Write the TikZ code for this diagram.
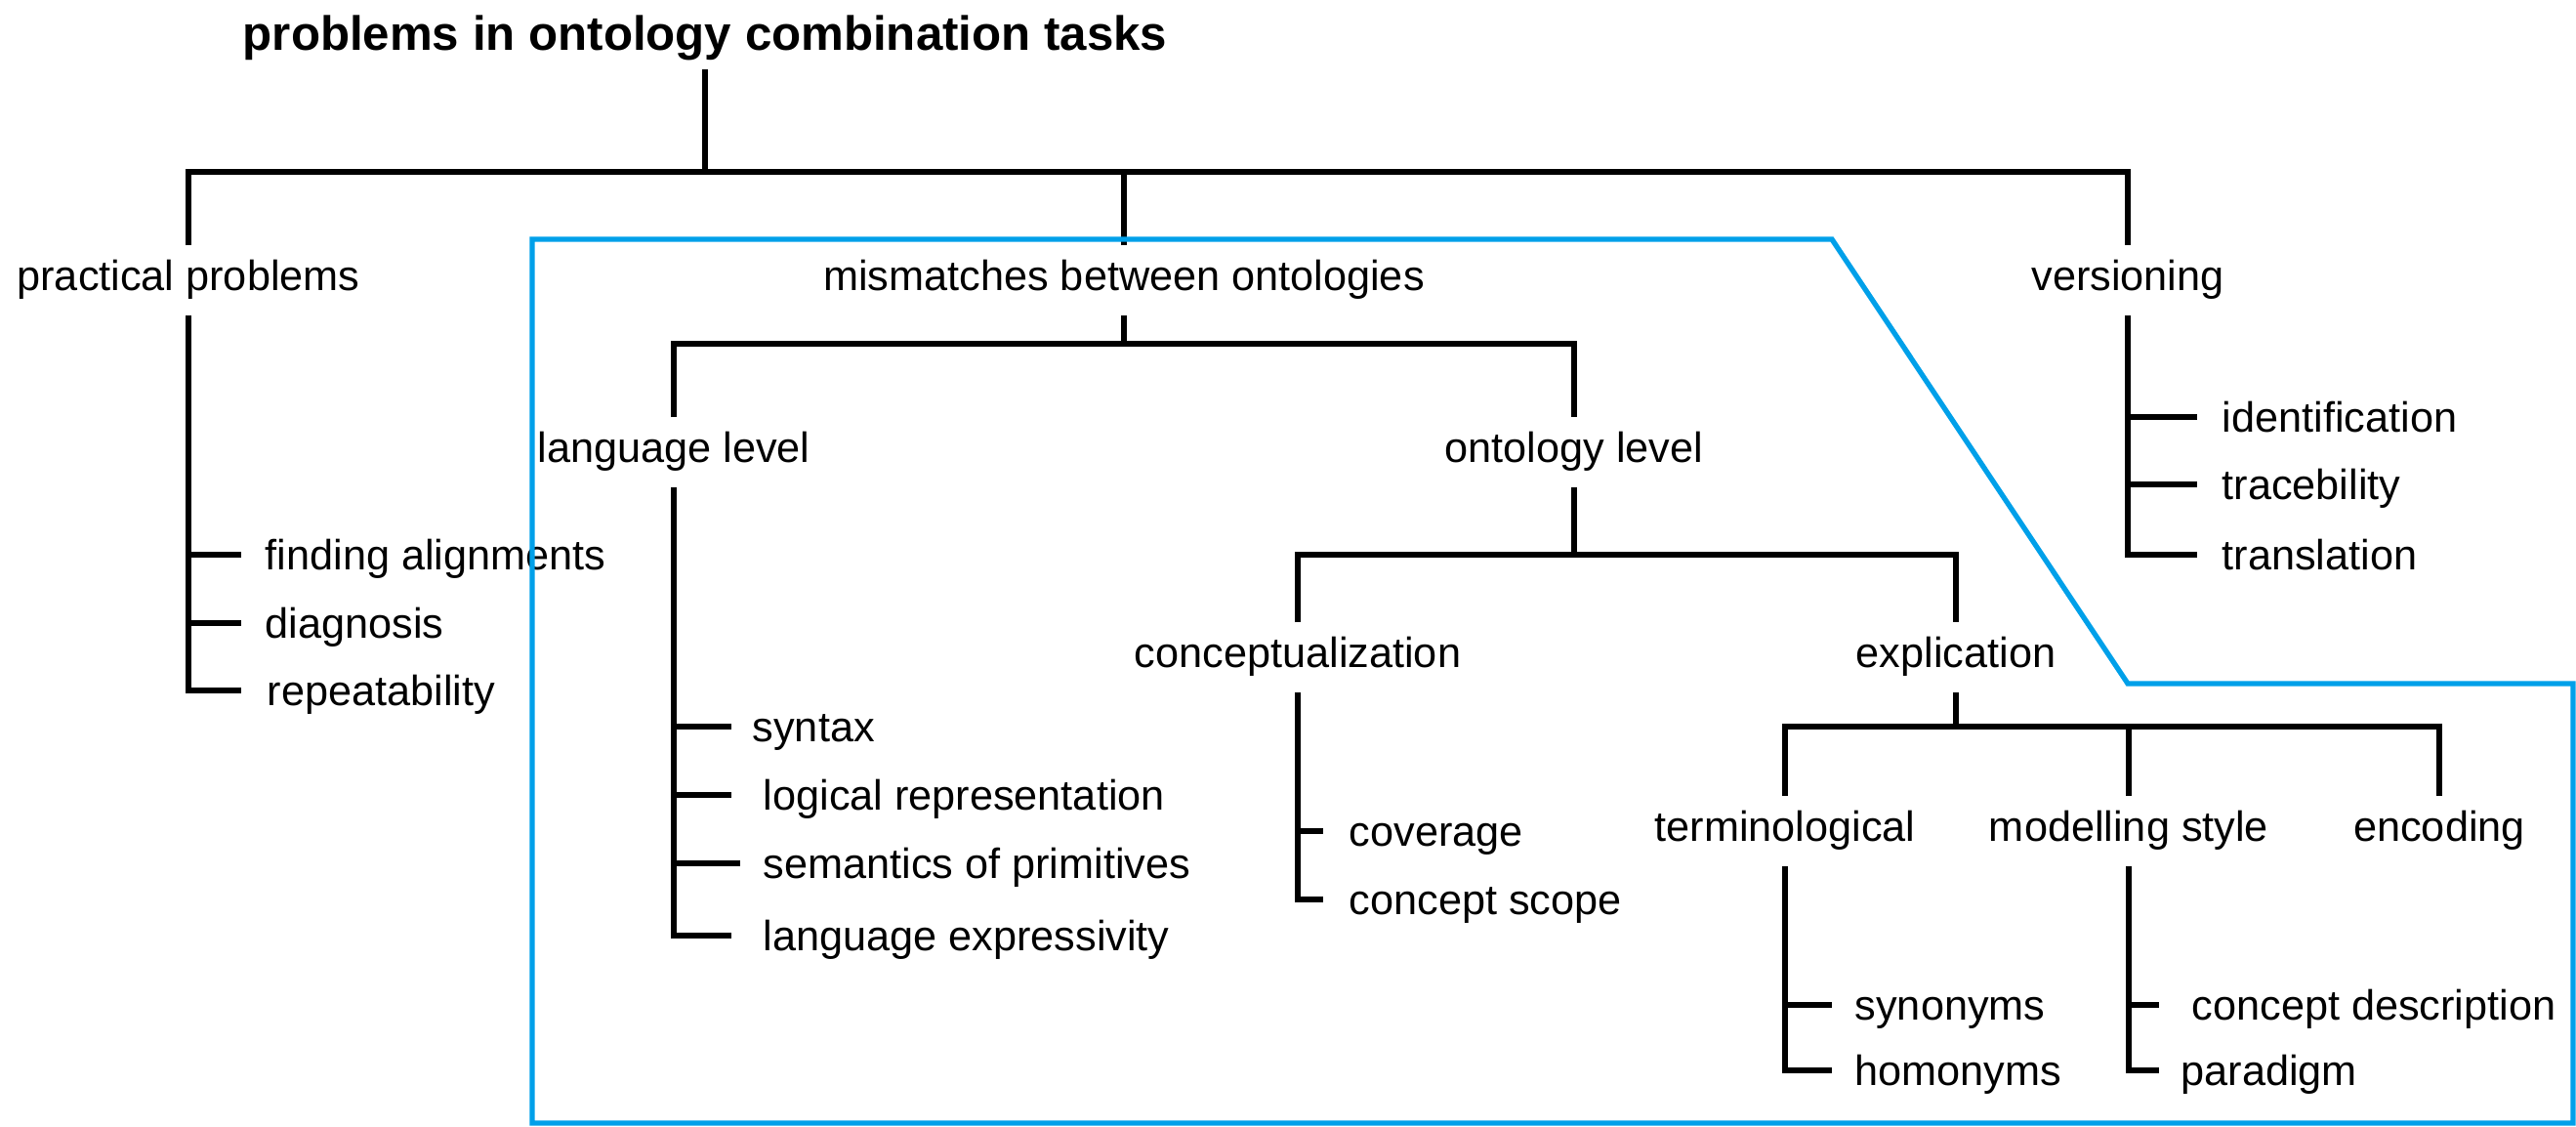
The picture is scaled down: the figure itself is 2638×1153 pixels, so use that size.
\documentclass[tikz,border=0pt]{standalone}
\usepackage{fontspec}
\setmainfont{Liberation Sans}
\usetikzlibrary{calc}
\definecolor{regionblue}{RGB}{0,160,233}
\begin{document}
\begin{tikzpicture}[x=0.01cm,y=-0.01cm,
  tree/.style={line width=1.6pt, line join=miter},
  lab/.style={font=\fontsize{12.3}{14}\selectfont, text height=9pt, text depth=3pt,
              inner xsep=0pt, inner ysep=4pt},
  leaf/.style={lab, anchor=west},
  region/.style={draw=regionblue, line width=1.5pt, line join=miter}]
\useasboundingbox (0,0) rectangle (2638,1153);

% root
\node[font=\fontsize{14}{17}\selectfont\bfseries, text height=10pt, text depth=3pt,
      inner xsep=0pt, inner ysep=2.5pt] (root) at (722,39) {problems in ontology combination tasks};
\coordinate (bar0) at (722,176);

% first level
\node[lab] (pp)  at (193,287)  {practical problems};
\node[lab] (mm)  at (1151,287) {mismatches between ontologies};
\node[lab] (ver) at (2179,287) {versioning};
\draw[tree] (root.south) -- (root.south |- bar0);
\draw[tree] (pp.north) -- (pp.north |- bar0) -- (ver.north |- bar0) -- (ver.north);
\draw[tree] (mm.north) -- (mm.north |- bar0);

% practical problems
\node[leaf] (fa) at (271,573) {finding alignments};
\node[leaf] (dg) at (271,643) {diagnosis};
\node[leaf] (rp) at (273,712) {repeatability};
\draw[tree] (pp.south) -- ($(pp.south |- rp.west)+(0,-5)$) -- +(54,0);
\foreach \n in {fa,dg}
  \draw[tree] ($(pp.south |- \n.west)+(0,-5)$) -- +(54,0);

% versioning
\node[leaf] (idf) at (2275,432) {identification};
\node[leaf] (trc) at (2275,501) {tracebility};
\node[leaf] (trl) at (2275,573) {translation};
\draw[tree] (ver.south) -- ($(ver.south |- trl.west)+(0,-5)$) -- +(71,0);
\foreach \n in {idf,trc}
  \draw[tree] ($(ver.south |- \n.west)+(0,-5)$) -- +(71,0);

% mismatches between ontologies
\coordinate (bar1) at (0,352);
\node[lab] (lang) at (690,463)  {language level};
\node[lab] (ont)  at (1612,463) {ontology level};
\draw[tree] (mm.south) -- (mm.south |- bar1);
\draw[tree] (lang.north) -- (lang.north |- bar1) -- (ont.north |- bar1) -- (ont.north);

% language level
\node[leaf] (syn) at (770,749) {syntax};
\node[leaf] (lrp) at (781,819) {logical representation};
\node[leaf] (sem) at (781,889) {semantics of primitives};
\node[leaf] (lex) at (781,963) {language expressivity};
\draw[tree] (lang.south) -- ($(lang.south |- lex.west)+(0,-5)$) -- +(59,0);
\draw[tree] ($(lang.south |- syn.west)+(0,-5)$) -- +(59,0);
\draw[tree] ($(lang.south |- lrp.west)+(0,-5)$) -- +(59,0);
\draw[tree] ($(lang.south |- sem.west)+(0,-5)$) -- +(68,0);

% ontology level
\coordinate (bar2) at (0,568);
\node[lab] (conc) at (1329,673) {conceptualization};
\node[lab] (expl) at (2003,673) {explication};
\draw[tree] (ont.south) -- (ont.south |- bar2);
\draw[tree] (conc.north) -- (conc.north |- bar2) -- (expl.north |- bar2) -- (expl.north);

% conceptualization
\node[leaf] (cov) at (1381,856) {coverage};
\node[leaf] (csc) at (1381,926) {concept scope};
\draw[tree] (conc.south) -- ($(conc.south |- csc.west)+(0,-5)$) -- +(26,0);
\draw[tree] ($(conc.south |- cov.west)+(0,-5)$) -- +(26,0);

% explication
\coordinate (bar3) at (0,744);
\node[lab] (term) at (1828,851) {terminological};
\node[lab] (mod)  at (2180,851) {modelling style};
\node[lab] (enc)  at (2498,851) {encoding};
\draw[tree] (expl.south) -- (expl.south |- bar3);
\draw[tree] (term.north) -- (term.north |- bar3) -- (enc.north |- bar3) -- (enc.north);
\draw[tree] (mod.north) -- (mod.north |- bar3);

% terminological
\node[leaf] (syno) at (1899,1034) {synonyms};
\node[leaf] (homo) at (1899,1101) {homonyms};
\draw[tree] (term.south) -- ($(term.south |- homo.west)+(0,-5)$) -- +(48,0);
\draw[tree] ($(term.south |- syno.west)+(0,-5)$) -- +(48,0);

% modelling style
\node[leaf] (cdes) at (2244,1034) {concept description};
\node[leaf] (para) at (2233,1101) {paradigm};
\draw[tree] (mod.south) -- ($(mod.south |- para.west)+(0,-5)$) -- +(31,0);
\draw[tree] ($(mod.south |- cdes.west)+(0,-5)$) -- +(31,0);

% outline of the mismatch region
\draw[region] (545,1150) -- (545,245) -- (1876,245) -- (2179,700)
  -- (2635,700) -- (2635,1150) -- cycle;
\end{tikzpicture}
\end{document}
